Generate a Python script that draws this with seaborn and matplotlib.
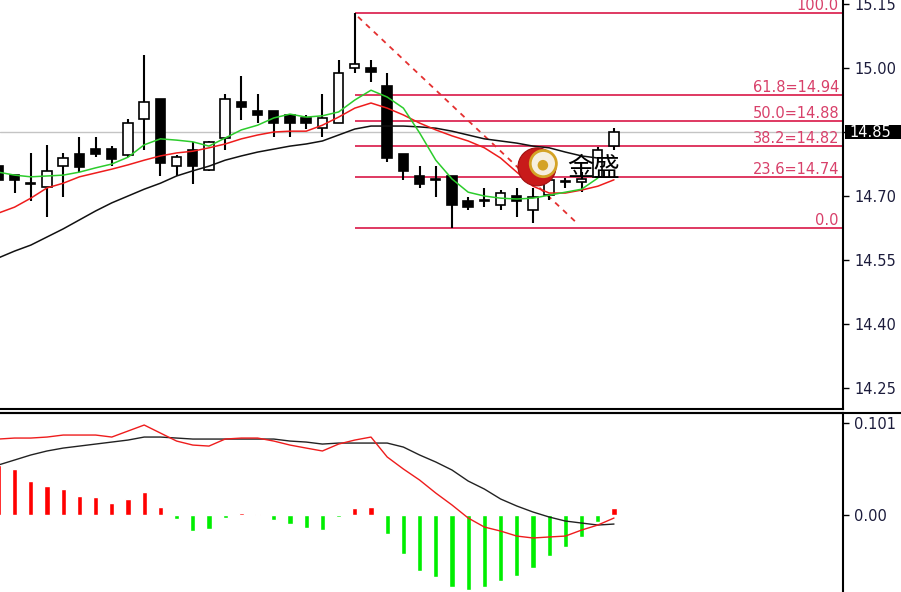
import numpy as np
import pandas as pd
import matplotlib
matplotlib.use("Agg")
import matplotlib.pyplot as plt
import matplotlib.transforms as mtransforms
from matplotlib.patches import Ellipse, Rectangle
from matplotlib.lines import Line2D
import seaborn as sns

# ---------------- data ----------------
bar_open = [14.770, 14.749, 14.730, 14.721, 14.770, 14.798, 14.810, 14.810, 14.796, 14.880,
            14.927, 14.770, 14.808, 14.761, 14.836, 14.920, 14.899, 14.899, 14.890, 14.883,
            14.859, 14.871, 15.000, 15.000, 14.958, 14.798, 14.747, 14.739, 14.747, 14.688,
            14.691, 14.679, 14.700, 14.667, 14.702, 14.733, 14.733, 14.745, 14.817]
bar_high = [14.770, 14.749, 14.801, 14.820, 14.801, 14.838, 14.838, 14.817, 14.880, 15.030,
            14.927, 14.796, 14.827, 14.829, 14.939, 14.981, 14.939, 14.899, 14.890, 14.890,
            14.939, 15.019, 15.128, 15.019, 14.988, 14.798, 14.770, 14.770, 14.747, 14.698,
            14.719, 14.714, 14.719, 14.719, 14.773, 14.742, 14.756, 14.815, 14.859]
bar_low = [14.733, 14.707, 14.688, 14.651, 14.698, 14.756, 14.791, 14.770, 14.791, 14.808,
           14.747, 14.747, 14.728, 14.759, 14.808, 14.878, 14.871, 14.838, 14.838, 14.857,
           14.838, 14.871, 14.988, 14.967, 14.780, 14.738, 14.719, 14.698, 14.625, 14.667,
           14.674, 14.667, 14.651, 14.637, 14.691, 14.719, 14.709, 14.745, 14.808]
bar_close = [14.738, 14.738, 14.728, 14.759, 14.789, 14.768, 14.798, 14.787, 14.871, 14.920,
             14.777, 14.791, 14.770, 14.827, 14.927, 14.909, 14.890, 14.871, 14.871, 14.871,
             14.883, 14.988, 15.009, 14.991, 14.789, 14.759, 14.728, 14.737, 14.679, 14.674,
             14.689, 14.707, 14.688, 14.698, 14.738, 14.735, 14.740, 14.808, 14.850]

ma_green = [14.756, 14.749, 14.745, 14.747, 14.749, 14.756, 14.766, 14.775, 14.791, 14.820,
            14.834, 14.831, 14.827, 14.817, 14.836, 14.855, 14.866, 14.883, 14.892, 14.885,
            14.888, 14.897, 14.925, 14.948, 14.932, 14.906, 14.848, 14.784, 14.740, 14.709,
            14.700, 14.695, 14.693, 14.695, 14.702, 14.709, 14.716, 14.742]
ma_red = [14.660, 14.674, 14.695, 14.719, 14.730, 14.745, 14.754, 14.763, 14.773, 14.784,
          14.794, 14.801, 14.805, 14.813, 14.822, 14.834, 14.843, 14.850, 14.852, 14.852,
          14.866, 14.885, 14.906, 14.918, 14.906, 14.890, 14.871, 14.855, 14.841, 14.829,
          14.813, 14.789, 14.756, 14.723, 14.707, 14.707, 14.714, 14.723, 14.738]
ma_black = [14.555, 14.571, 14.585, 14.604, 14.623, 14.644, 14.665, 14.684, 14.700, 14.716,
            14.730, 14.747, 14.759, 14.770, 14.784, 14.794, 14.803, 14.810, 14.817, 14.822,
            14.829, 14.843, 14.857, 14.864, 14.864, 14.864, 14.862, 14.859, 14.852, 14.843,
            14.834, 14.829, 14.824, 14.817, 14.813, 14.803, 14.794, 14.789]

macd_hist = [0.055, 0.0505, 0.037, 0.032, 0.0285, 0.021, 0.020, 0.013, 0.0175, 0.025,
             0.009, -0.0045, -0.017, -0.015, -0.003, 0.002, 0.001, -0.006, -0.010, -0.0145,
             -0.0165, -0.0026, 0.0077, 0.0088, -0.021, -0.043, -0.0615, -0.068, -0.079, -0.082,
             -0.079, -0.0725, -0.067, -0.058, -0.045, -0.035, -0.024, -0.0077, 0.0077]
macd_red = [0.0834, 0.0845, 0.0845, 0.0856, 0.0878, 0.0878, 0.0878, 0.0856, 0.0922, 0.0988,
            0.0900, 0.0812, 0.0768, 0.0757, 0.0834, 0.0845, 0.0845, 0.0812, 0.0768, 0.0735,
            0.0703, 0.0779, 0.0823, 0.0856, 0.0637, 0.0505, 0.0384, 0.0241, 0.0110, -0.0033,
            -0.0132, -0.0176, -0.0231, -0.0252, -0.0241, -0.0231, -0.0165, -0.0110, -0.0033]
macd_black = [0.0549, 0.0604, 0.0659, 0.0703, 0.0735, 0.0757, 0.0779, 0.0801, 0.0823, 0.0856,
              0.0856, 0.0845, 0.0834, 0.0834, 0.0834, 0.0834, 0.0834, 0.0834, 0.0812, 0.0801,
              0.0779, 0.0790, 0.0790, 0.0790, 0.0790, 0.0746, 0.0659, 0.0582, 0.0494, 0.0373,
              0.0285, 0.0176, 0.0099, 0.0033, -0.0022, -0.0066, -0.0088, -0.0110, -0.0099]

fib_levels = [0.0, 23.6, 38.2, 50.0, 61.8, 100.0]
fib_high = 15.128
fib_low = 14.625
fib_start_bar = 22
trend_x = [22.2, 35.7]
trend_y = [15.120, 14.637]
last_price = 14.85
price_ticks = [14.25, 14.40, 14.55, 14.70, 14.85, 15.00, 15.15]
macd_ticks = [0.0, 0.101]
macd_tick_labels = ["0.00", "0.101"]
logo_text = "金盛"

# ---------------- style ----------------
sns.set_theme(style="white")
plt.rcParams["font.family"] = ["DejaVu Sans", "Noto Sans CJK SC"]

idx = np.arange(len(bar_open))
df = pd.DataFrame({"i": idx, "o": bar_open, "h": bar_high, "l": bar_low, "c": bar_close,
                   "hist": macd_hist, "mr": macd_red, "mb": macd_black})
df["sign"] = np.where(df["hist"] >= 0, "up", "down")

W, H = 901, 592
fig = plt.figure(figsize=(W / 100, H / 100), dpi=100)
ax1 = fig.add_axes([0, 1 - 409 / H, 843 / W, 409 / H])
ax2 = fig.add_axes([0, 0, 843 / W, (H - 413) / H])

XLIM = (0.099, 52.136)
tick_color = "#1c1c3c"

# ---- price panel ----
ax1.axhline(last_price, color="#c4c4c4", lw=1.0, zorder=1)

ax1.vlines(df["i"], df["l"], df["h"], color="black", lw=1.5, zorder=3)
up = df["c"] >= df["o"]
body_bottom = np.minimum(df["o"], df["c"])
body_h = np.maximum(np.abs(df["c"] - df["o"]), 0.0006)
ax1.bar(df["i"], body_h, bottom=body_bottom, width=0.58,
        color=np.where(up, "white", "black"), edgecolor="black", linewidth=1.2, zorder=4)

sns.lineplot(x=idx[:len(ma_black)], y=ma_black, ax=ax1, color="#111111", lw=1.1, zorder=5)
sns.lineplot(x=idx[:len(ma_red)], y=ma_red, ax=ax1, color="#ee1c1c", lw=1.1, zorder=5)
sns.lineplot(x=idx[:len(ma_green)], y=ma_green, ax=ax1, color="#2ccc2c", lw=1.1, zorder=5)

# Fibonacci retracement
fib_color = "#dc2a55"
blend = mtransforms.blended_transform_factory(ax1.transAxes, ax1.transData)
for lvl in fib_levels:
    price = fib_low + (fib_high - fib_low) * lvl / 100.0
    ax1.hlines(price, fib_start_bar, XLIM[1], color=fib_color, lw=1.3, zorder=2)
    if lvl in (0.0, 100.0):
        label = f"{lvl:.1f}"
    else:
        label = f"{lvl:.1f}={price:.2f}"
    ax1.text(839 / 843, price, label, transform=blend,
             ha="right", va="bottom", color="#d8406a", fontsize=10.5, zorder=6)

ax1.plot(trend_x, trend_y, color="#e43030", lw=1.3, ls=(0, (3, 3)), zorder=2)

ax1.set_xlim(*XLIM)
ax1.set_ylim(14.2009, 15.1594)
ax1.set_xticks([])
ax1.set_xlabel("")
ax1.set_ylabel("")
ax1.yaxis.tick_right()
ax1.set_yticks(price_ticks)
# the 14.85 tick is labelled by the current-price box instead
ax1.set_yticklabels(["" if t == last_price else f"{t:.2f}" for t in price_ticks])
ax1.tick_params(axis="y", direction="out", length=4, width=1, color="black",
                labelsize=10.5, labelcolor=tick_color, pad=4)
for s in ("left", "top"):
    ax1.spines[s].set_visible(False)
for s in ("right", "bottom"):
    ax1.spines[s].set_visible(True)
    ax1.spines[s].set_color("black")
    ax1.spines[s].set_linewidth(1.5)

# current price box
ax1.add_patch(Rectangle((1.002, last_price - 0.0175), 0.069, 0.035, transform=blend,
                        facecolor="black", edgecolor="none", clip_on=False, zorder=10))
ax1.text(1.008, last_price, f"{last_price:.2f}", transform=blend, ha="left", va="center",
         color="white", fontsize=10.5, clip_on=False, zorder=11)

# logo
ax1.add_patch(Ellipse((0.637, 0.592), 0.0451, 0.0929, transform=ax1.transAxes,
                      facecolor="#c81a1a", edgecolor="#a01010", lw=0.8, zorder=8))
ax1.add_patch(Ellipse((0.6445, 0.600), 0.031, 0.064, transform=ax1.transAxes,
                      facecolor="#f6efe0", edgecolor="#d4a326", lw=2.0, zorder=8))
ax1.add_patch(Ellipse((0.6440, 0.596), 0.0125, 0.026, transform=ax1.transAxes,
                      facecolor="#d4a326", edgecolor="none", zorder=9))
ax1.text(0.7046, 0.589, logo_text, transform=ax1.transAxes, ha="center", va="center",
         fontsize=19, color="black", family=["Noto Sans CJK SC"], zorder=9)

# ---- MACD panel ----
sns.barplot(data=df, x="i", y="hist", hue="sign", palette={"up": "#ff0000", "down": "#00ee00"},
            native_scale=True, width=0.33, dodge=False, legend=False, errorbar=None,
            saturation=1, ax=ax2, zorder=3)
sns.lineplot(data=df, x="i", y="mb", ax=ax2, color="#222222", lw=1.0, zorder=4)
sns.lineplot(data=df, x="i", y="mr", ax=ax2, color="#ee1c1c", lw=1.0, zorder=4)

ax2.set_xlim(*XLIM)
ax2.set_ylim(-0.0845, 0.112)
ax2.set_xticks([])
ax2.set_xlabel("")
ax2.set_ylabel("")
ax2.yaxis.tick_right()
ax2.set_yticks(macd_ticks)
ax2.set_yticklabels(macd_tick_labels)
ax2.tick_params(axis="y", direction="out", length=4, width=1, color="black",
                labelsize=10.5, labelcolor=tick_color, pad=4)
for s in ("left", "bottom"):
    ax2.spines[s].set_visible(False)
for s in ("right", "top"):
    ax2.spines[s].set_visible(True)
    ax2.spines[s].set_color("black")
    ax2.spines[s].set_linewidth(1.5)

fig.add_artist(Line2D([0, 1], [(H - 413) / H] * 2, transform=fig.transFigure,
                      color="black", lw=1.5))

fig.savefig("out.png", dpi=100)
